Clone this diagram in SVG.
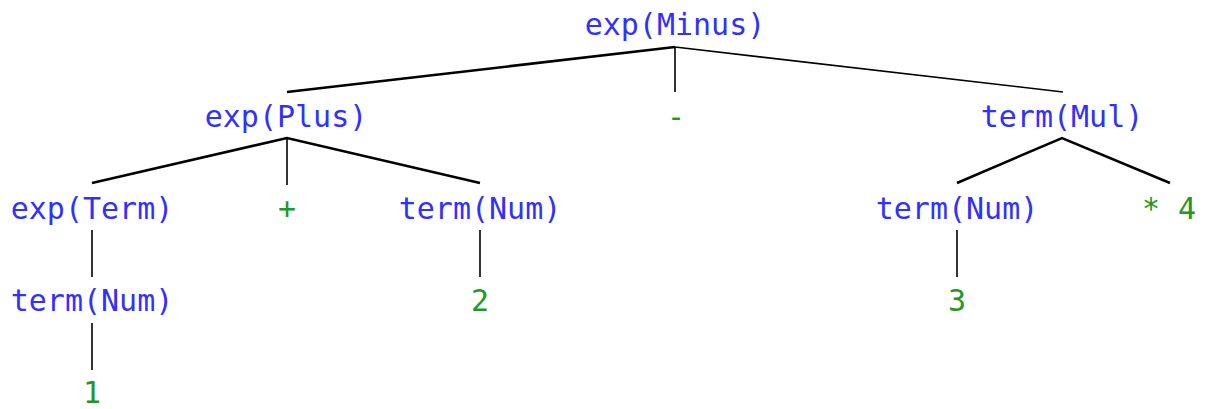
<svg xmlns="http://www.w3.org/2000/svg" width="1208" height="409" viewBox="0 0 1208 409">
<style>
text{font-family:"DejaVu Sans Mono",monospace;font-size:30px;text-anchor:middle}
.n{fill:#3030ff}
.t{fill:#229922}
.e{stroke:#000;stroke-width:2.5;fill:none}
.v{stroke:#000;stroke-width:1.6;fill:none}
</style>
<rect width="1208" height="409" fill="#fff"/>
<g id="edges">
<path class="e" d="M287,92 L675,47"/>
<path class="v" d="M675,47 L1063,92"/>
<path class="v" d="M675,47 V92"/>
<path class="e" d="M92,183 L287,138 L480,183"/>
<path class="v" d="M287,138 V185"/>
<path class="e" d="M957,183 L1062,138 L1170,183" stroke-width="2"/>
<path class="v" d="M92,230 V277"/>
<path class="v" d="M92,323 V370"/>
<path class="v" d="M480,230 V277"/>
<path class="v" d="M957,230 V277"/>
</g>
<g id="n-exp-minus"><text class="n" x="675" y="35">exp(Minus)</text></g>
<g id="n-exp-plus"><text class="n" x="286" y="127">exp(Plus)</text></g>
<g id="n-minus"><text class="t" x="676" y="127">-</text></g>
<g id="n-term-mul"><text class="n" x="1062" y="127">term(Mul)</text></g>
<g id="n-exp-term"><text class="n" x="92" y="219">exp(Term)</text></g>
<g id="n-plus"><text class="t" x="287" y="219">+</text></g>
<g id="n-term-num-2"><text class="n" x="480" y="219">term(Num)</text></g>
<g id="n-term-num-3"><text class="n" x="957" y="219">term(Num)</text></g>
<g id="n-times4"><text class="t" x="1169" y="219">* 4</text></g>
<g id="n-term-num-1"><text class="n" x="92" y="311">term(Num)</text></g>
<g id="n-2"><text class="t" x="480" y="311">2</text></g>
<g id="n-3"><text class="t" x="957" y="311">3</text></g>
<g id="n-1"><text class="t" x="92" y="403">1</text></g>
</svg>
